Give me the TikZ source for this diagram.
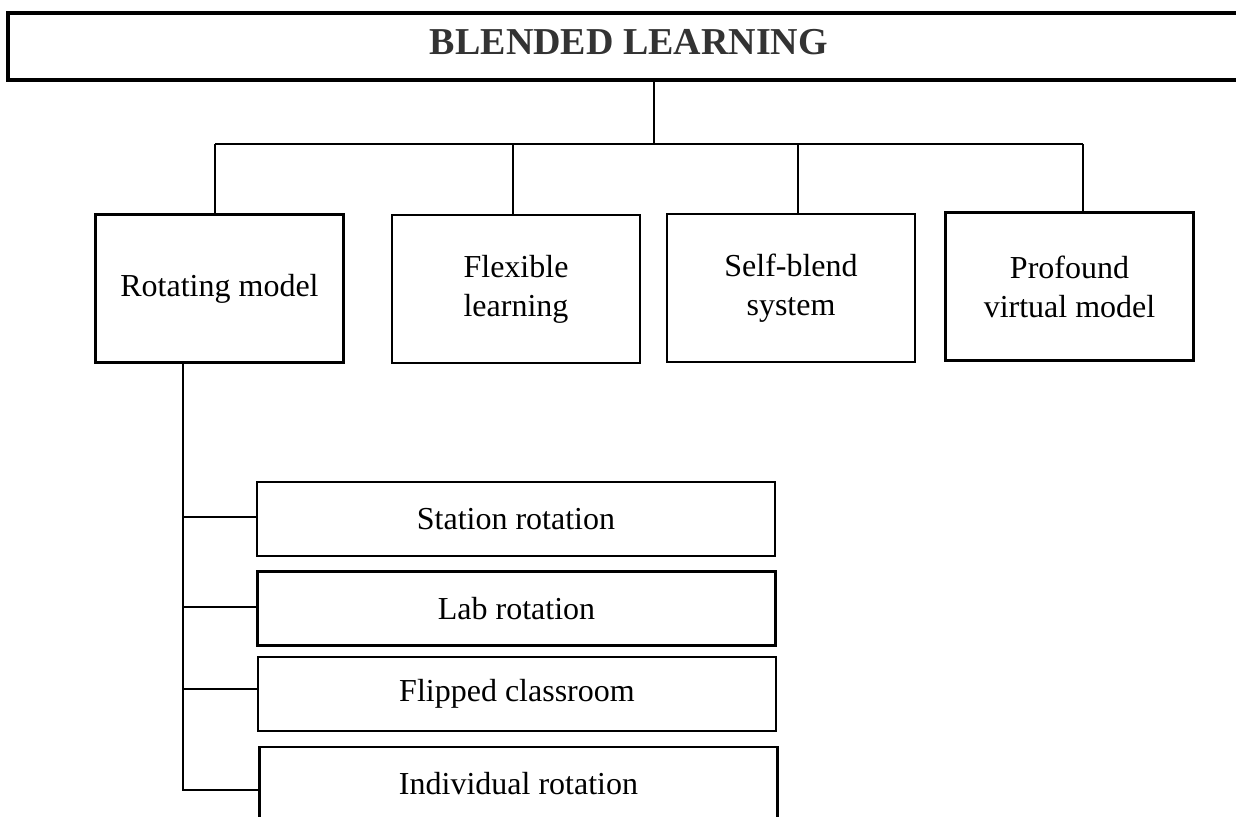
\documentclass[tikz,border=0pt]{standalone}
\usepackage{fontspec}
\setmainfont{Liberation Serif}
\usepackage{tikz}
\usetikzlibrary{calc}
\definecolor{titlegray}{RGB}{51,51,51}
\tikzset{
  model/.style={draw,line width=1.2pt,minimum width=124pt,minimum height=74pt,
    align=center,inner sep=2pt,font=\fontsize{16}{19.5}\selectfont},
  variant/.style={draw,line width=1.2pt,minimum width=259pt,minimum height=37pt,
    inner sep=2pt,font=\fontsize{16}{19.5}\selectfont},
  link/.style={line width=1.1pt}
}
\begin{document}
\begin{tikzpicture}[x=0.5pt,y=-0.5pt]
\useasboundingbox (0,0) rectangle (1236,816);
\clip (0,0) rectangle (1236,816);
%title
\node[draw,line width=1.6pt,minimum width=621pt,minimum height=33.5pt,text depth=5pt,
  text=titlegray,font=\fontsize{19}{22}\bfseries\selectfont] (blended) at (629,46.5) {BLENDED LEARNING};
%models
\node[model] (rot)  at (219.5,288.5) {Rotating model};
\node[model] (flex) at (516,289)     {Flexible\\learning};
\node[model] (self) at (791,288)     {Self-blend\\system};
\node[model] (prof) at (1069.5,286.5){Profound\\virtual model};
%rotations
\node[variant] (station) at (516,519)   {Station rotation};
\node[variant] (lab)     at (516.5,608.5) {Lab rotation};
\node[variant] (flip)    at (517,694)   {Flipped classroom};
\node[variant] (indiv)   at (518.5,784) {Individual rotation};
%tree
\coordinate (barL) at (215,144);
\coordinate (barR) at (1083,144);
\draw[link] ([xshift=12.5pt]blended.south) -- ([xshift=12.5pt]blended.south |- barL);
\draw[link] (barL) -- (barR);
\draw[link] (barL) -- (rot.north -| barL);
\draw[link] ([xshift=-1.5pt]flex.north) -- ([xshift=-1.5pt]flex.north |- barL);
\draw[link] ([xshift=3.5pt]self.north) -- ([xshift=3.5pt]self.north |- barL);
\draw[link] (barR) -- (prof.north -| barR);
%spine
\coordinate (spine) at ([xshift=-18.25pt]rot.south);
\draw[link] (spine) |- ([yshift=-3pt]indiv.west);
\draw[link] ([yshift=1pt]station.west) -- ([yshift=1pt]station.west -| spine);
\draw[link] ([yshift=0.75pt]lab.west) -- ([yshift=0.75pt]lab.west -| spine);
\draw[link] ([yshift=2.5pt]flip.west) -- ([yshift=2.5pt]flip.west -| spine);
\end{tikzpicture}
\end{document}
